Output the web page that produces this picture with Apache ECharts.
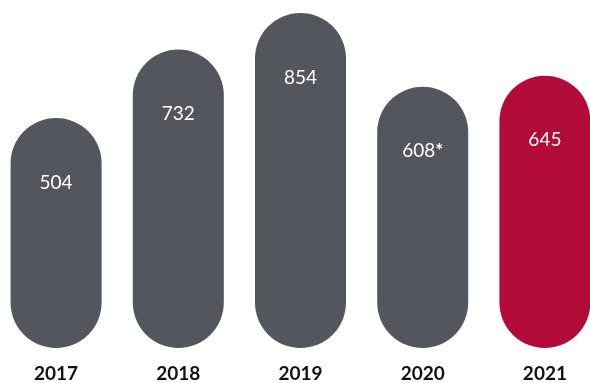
<!DOCTYPE html>
<html><head><meta charset="utf-8">
<script src="https://cdn.jsdelivr.net/npm/echarts@6/dist/echarts.min.js"></script>
<style>html,body{margin:0;padding:0;background:#fff;overflow:hidden;width:590px;height:383px}#c{position:absolute;left:-5px;top:0;width:611px;height:383px}</style>
</head><body><div id="c"></div>
<script>
const years = ['2017', '2018', '2019', '2020', '2021'];
const values = [504, 732, 854, 608, 645];
const notes = ['', '', '', '*', ''];
const highlight = [false, false, false, false, true];
const BASE = 263; // visual baseline offset of the original chart scale

const GRAY = '#53565d', RED = '#b30b37';
const chart = echarts.init(document.getElementById('c'));
chart.setOption({
  animation: false,
  grid: { left: 0, right: 0, top: 13, bottom: 33 },
  xAxis: {
    type: 'category', data: years,
    axisLine: { show: false }, axisTick: { show: false },
    axisLabel: { margin: 16, color: '#111', fontSize: 19, fontWeight: 'bold', fontFamily: 'Lato' }
  },
  yAxis: { type: 'value', min: 0, max: 854 + BASE, show: false },
  series: [
    { type: 'bar', barWidth: 91,
      data: values.map((v, i) => ({ value: v + BASE, itemStyle: { color: highlight[i] ? RED : GRAY } })),
      itemStyle: { borderRadius: 45.5 },
      label: {
        show: true, position: 'insideTop', distance: 55,
        formatter: p => values[p.dataIndex] + (notes[p.dataIndex] ? '{n|' + notes[p.dataIndex] + '}' : ''),
        color: '#fff', fontSize: 19, fontFamily: 'Lato',
        rich: { n: { color: '#fff', fontSize: 19, fontWeight: 'bold', fontFamily: 'Lato' } }
      }
    }
  ]
});
</script></body></html>
